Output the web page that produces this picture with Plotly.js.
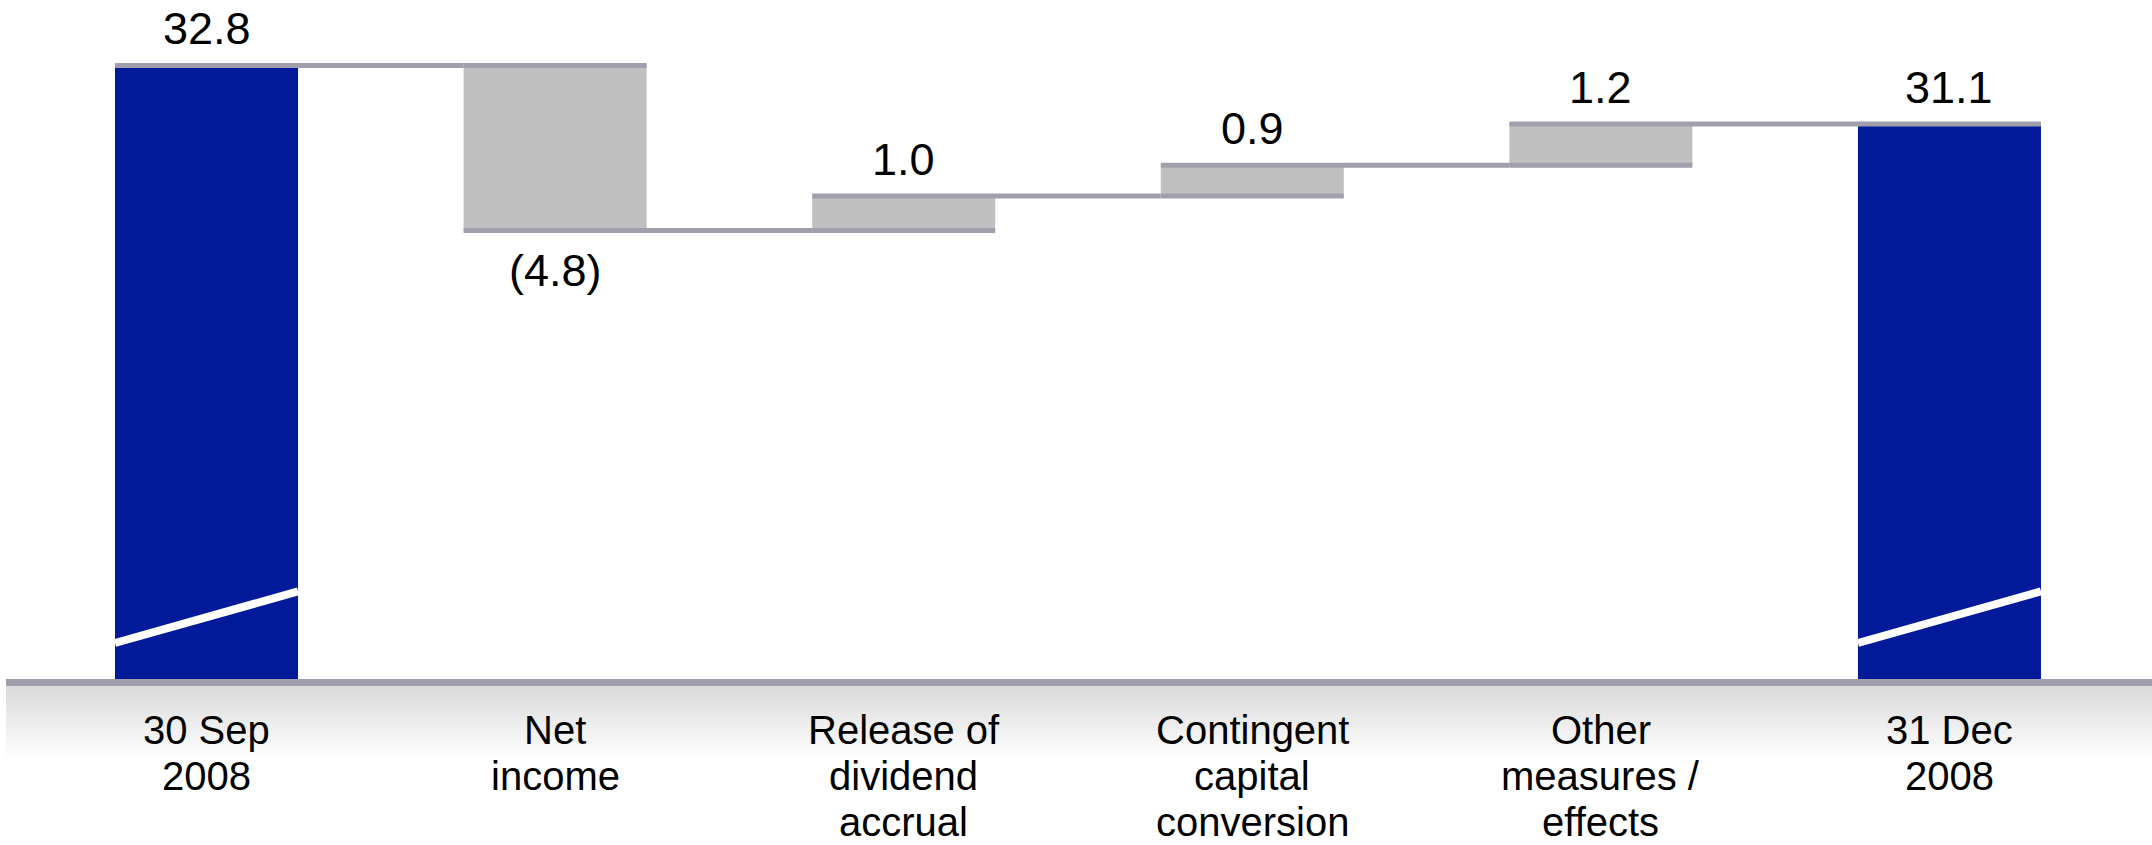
<!DOCTYPE html>
<html>
<head>
<meta charset="utf-8">
<script src="https://cdn.plot.ly/plotly-3.0.1.min.js"></script>
<style>
  html, body { margin: 0; padding: 0; background: #ffffff; }
  #chart { width: 2152px; height: 845px; }
</style>
</head>
<body>
<div id="chart"></div>
<script>
// ---- data ----
var categories = [
  "30 Sep<br>2008",
  "Net<br>income",
  "Release of<br>dividend<br>accrual",
  "Contingent<br>capital<br>conversion",
  "Other<br>measures /<br>effects",
  "31 Dec<br>2008"
];
var values = [32.8, -4.8, 1.0, 0.9, 1.2, 31.1];
var measures = ["absolute", "relative", "relative", "relative", "relative", "total"];

// ---- style ----
var BLUE = "rgb(0,26,154)";
var GREY_BAR = "#c0c0c0";
var GREY_LINE = "#a09fab";
var FONT = "Liberation Sans, Arial, Helvetica, sans-serif";
var PLOT_H = 679;          // plot-area height in px (845 - bottom margin 166)
var LABEL_FIRST = 730;     // px centre of first category label line
var LABEL_STEP = 46;       // px between category label lines

function fmt(v) {
  return v < 0 ? "(" + Math.abs(v).toFixed(1) + ")" : v.toFixed(1);
}

// cumulative levels at end of each bar
var levels = [];
var run = 0;
for (var i = 0; i < values.length; i++) {
  if (measures[i] === "absolute") run = values[i];
  else if (measures[i] === "relative") run += values[i];
  levels.push(run);
}

var trace = {
  type: "waterfall",
  orientation: "v",
  x: categories,
  y: values,
  measure: measures,
  textinfo: "none",
  hoverinfo: "skip",
  increasing: { marker: { color: GREY_BAR } },
  decreasing: { marker: { color: GREY_BAR } },
  totals: { marker: { color: BLUE } },
  connector: { mode: "spanning", line: { color: GREY_LINE, width: 5 } }
};

var annotations = [];
// value labels
for (var j = 0; j < categories.length; j++) {
  var shown = measures[j] === "total" ? levels[j] : values[j];
  var neg = measures[j] === "relative" && values[j] < 0;
  annotations.push({
    x: categories[j], y: levels[j], xref: "x", yref: "y",
    text: fmt(shown), showarrow: false,
    xanchor: "center", yanchor: neg ? "top" : "bottom",
    yshift: neg ? -13 : 9,
    font: { family: FONT, size: 45, color: "#000000" }
  });
}
// category labels (one annotation per line, placed on the category axis)
categories.forEach(function (cat) {
  cat.split("<br>").forEach(function (line, k) {
    annotations.push({
      x: cat, xref: "x", yref: "paper",
      y: (PLOT_H - (LABEL_FIRST + LABEL_STEP * k)) / PLOT_H,
      text: line, showarrow: false, borderpad: 0,
      xanchor: "center", yanchor: "middle",
      font: { family: FONT, size: 40, color: "#000000" }
    });
  });
});

// axis-break marks on the total bars
var BAR_W = 0.525;
var shapes = [];
[0, categories.length - 1].forEach(function (k) {
  shapes.push({
    type: "line", xref: "x", yref: "y", layer: "above",
    x0: k - BAR_W / 2, x1: k + BAR_W / 2, y0: 16.0, y1: 17.5,
    line: { color: "#ffffff", width: 8 }
  });
});

var gradSvg = "<svg xmlns='http://www.w3.org/2000/svg' width='100' height='100' preserveAspectRatio='none'>" +
  "<defs><linearGradient id='g' x1='0' y1='0' x2='0' y2='1'>" +
  "<stop offset='0' stop-color='#d6d6d6'/><stop offset='0.15' stop-color='#dcdcdc'/><stop offset='1' stop-color='#ffffff'/>" +
  "</linearGradient></defs><rect width='100' height='100' fill='url(#g)'/></svg>";
var gradUri = "data:image/svg+xml;charset=utf-8," + encodeURIComponent(gradSvg);

var layout = {
  width: 2152, height: 845,
  margin: { l: 6, r: 0, t: 0, b: 845 - PLOT_H, pad: 0 },
  paper_bgcolor: "#ffffff",
  plot_bgcolor: "rgba(0,0,0,0)",
  showlegend: false,
  waterfallgap: 1 - BAR_W,
  xaxis: {
    type: "category",
    range: [-0.5752, 5.581],
    showline: true, linecolor: GREY_LINE, linewidth: 7,
    showgrid: false, zeroline: false, ticks: "",
    showticklabels: false,
    fixedrange: true
  },
  yaxis: {
    range: [14.952, 34.705],
    visible: false, showgrid: false, zeroline: false, fixedrange: true
  },
  annotations: annotations,
  shapes: shapes,
  images: [{
    source: gradUri, xref: "paper", yref: "paper",
    x: 0, y: 0, sizex: 1, sizey: 80 / PLOT_H,
    xanchor: "left", yanchor: "top", sizing: "stretch", layer: "below"
  }]
};

Plotly.newPlot("chart", [trace], layout, { staticPlot: true, displayModeBar: false });
</script>
</body>
</html>
